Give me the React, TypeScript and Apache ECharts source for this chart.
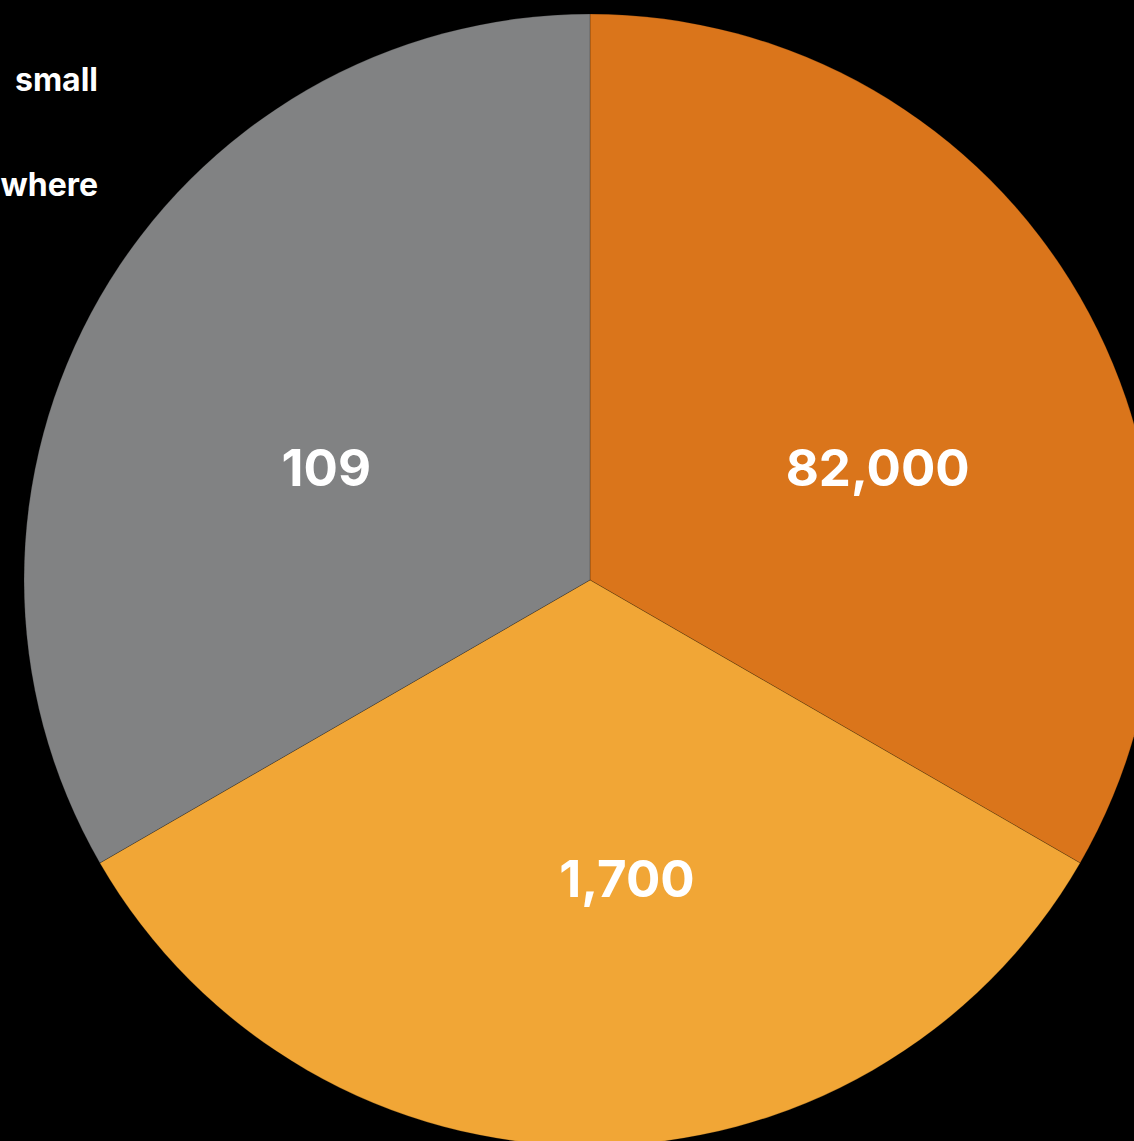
import React, { useEffect, useRef } from "react";
import * as echarts from "echarts";

const categories = ["Group 1", "Group 2", "Group 3"];
const displayValues = [82000, 1700, 109];
const sliceWeights = [1, 1, 1];
const colors = ["#DA751B", "#F1A636", "#818283"];
const labelOffsets = [[40, 30], [37, 12], [-16, 30]];
const sideTexts = ["small", "where"];

export default function App() {
  const ref = useRef<HTMLDivElement>(null);
  useEffect(() => {
    if (!ref.current) return;
    document.body.style.margin = "0";
    document.body.style.background = "#000";
    const chart = echarts.init(ref.current, undefined, { renderer: "svg" });
    const font = "Inter, 'Noto Sans', sans-serif";
    chart.setOption({
      animation: false,
      backgroundColor: "#000000",
      graphic: sideTexts.map((t, i) => ({
        type: "text",
        right: 1134 - 98,
        top: 63 + i * 105,
        style: {
          text: t,
          fill: "#ffffff",
          font: `bold 32px ${font}`,
          textAlign: "right",
        },
      })),
      series: [
        {
          type: "pie",
          center: [590, 580],
          radius: [0, 566],
          startAngle: 90,
          clockwise: true,
          silent: true,
          labelLine: { show: false },
          itemStyle: { borderColor: "rgba(0,0,0,0.35)", borderWidth: 0.6 },
          label: {
            show: true,
            position: "inner",
            color: "#ffffff",
            fontFamily: font,
            fontWeight: "bold",
            fontSize: 51,
            formatter: (p: any) => displayValues[p.dataIndex].toLocaleString("en-US"),
          },
          data: categories.map((name, i) => ({
            name,
            value: sliceWeights[i],
            itemStyle: { color: colors[i] },
            label: { offset: labelOffsets[i] },
          })),
        },
      ],
    });
    return () => chart.dispose();
  }, []);
  return (
    <div
      ref={ref}
      style={{ position: "absolute", left: 0, top: 0, width: 1134, height: 1141 }}
    />
  );
}
